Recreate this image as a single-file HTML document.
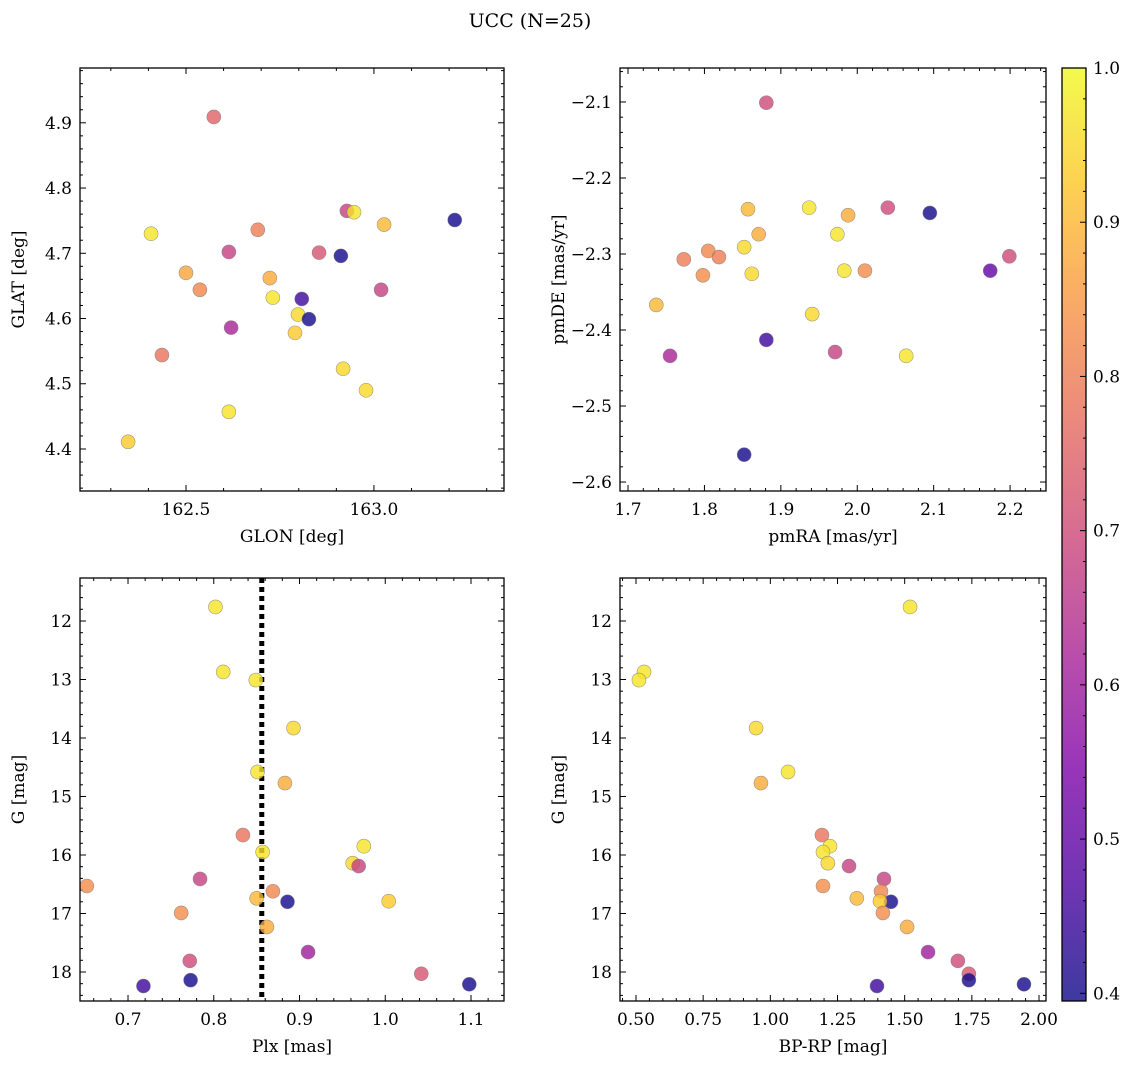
<!DOCTYPE html>
<html><head><meta charset="utf-8"><style>
html,body{margin:0;padding:0;background:#fff;}
svg{display:block;font-family:"DejaVu Serif","Liberation Serif",serif;}
</style></head><body>
<svg id="fig" width="1136" height="1068" viewBox="0 0 1136 1068" xmlns="http://www.w3.org/2000/svg">
<defs>
<linearGradient id="plasma" x1="0" y1="1" x2="0" y2="0">
<stop offset="0" stop-color="#0d0887"/><stop offset="0.125" stop-color="#4c02a1"/><stop offset="0.25" stop-color="#7e03a8"/><stop offset="0.375" stop-color="#a92395"/><stop offset="0.5" stop-color="#cc4778"/><stop offset="0.625" stop-color="#e66c5c"/><stop offset="0.75" stop-color="#f89540"/><stop offset="0.875" stop-color="#fdc527"/><stop offset="1" stop-color="#f0f921"/>
</linearGradient>
</defs>
<text x="530" y="27" font-size="19" text-anchor="middle">UCC (N=25)</text>
</svg>
<script>
// ---- data ----
const tlGlon=[162.574,162.407,162.614,162.691,162.500,162.537,162.723,162.731,162.808,162.620,162.798,162.827,162.790,162.854,162.912,162.928,162.947,163.027,163.215,163.019,162.918,162.979,162.614,162.346,162.436];
const tlGlat=[4.909,4.730,4.702,4.736,4.670,4.644,4.662,4.632,4.630,4.586,4.606,4.599,4.578,4.701,4.696,4.765,4.763,4.744,4.751,4.644,4.523,4.490,4.457,4.411,4.544];
const tlProb=[0.75,0.97,0.68,0.8,0.87,0.82,0.88,0.97,0.45,0.62,0.95,0.4,0.93,0.72,0.4,0.68,0.97,0.9,0.4,0.68,0.95,0.95,0.97,0.93,0.78];
const trPmra=[1.881,1.857,1.937,1.988,2.040,2.095,1.737,1.773,1.805,1.798,1.819,1.852,1.871,1.862,1.974,1.983,2.010,1.941,1.881,1.755,1.971,2.064,2.174,2.199,1.852];
const trPmde=[-2.101,-2.241,-2.239,-2.249,-2.239,-2.246,-2.367,-2.307,-2.296,-2.328,-2.304,-2.291,-2.274,-2.326,-2.274,-2.322,-2.322,-2.379,-2.413,-2.434,-2.429,-2.434,-2.322,-2.303,-2.564];
const trProb=[0.7,0.9,0.97,0.88,0.7,0.4,0.9,0.8,0.82,0.83,0.8,0.95,0.88,0.95,0.97,0.97,0.83,0.95,0.45,0.62,0.68,0.97,0.5,0.7,0.4];
const gMag=[11.76,12.87,13.01,13.83,14.58,14.77,15.66,15.85,15.95,16.14,16.19,16.41,16.53,16.62,16.74,16.80,16.79,16.99,17.23,17.66,17.81,18.03,18.14,18.24,18.21];
const plx=[0.802,0.811,0.849,0.893,0.851,0.883,0.834,0.975,0.857,0.962,0.969,0.784,0.652,0.869,0.850,0.886,1.004,0.762,0.862,0.910,0.772,1.042,0.773,0.718,1.098];
const bprp=[1.520,0.530,0.511,0.947,1.066,0.965,1.192,1.222,1.196,1.214,1.293,1.423,1.196,1.412,1.322,1.449,1.408,1.419,1.509,1.587,1.698,1.739,1.739,1.397,1.944];
const botProb=[0.97,0.97,0.97,0.95,0.97,0.88,0.78,0.97,0.97,0.95,0.68,0.68,0.83,0.82,0.9,0.4,0.93,0.83,0.88,0.6,0.7,0.72,0.4,0.45,0.4];
const plxLine=[0.856];
const cbTicks=[0.4,0.5,0.6,0.7,0.8,0.9,1.0];

const svg=document.getElementById('fig');
const NS='http://www.w3.org/2000/svg';
function mk(tag,at,parent){const e=document.createElementNS(NS,tag);for(const k in at)e.setAttribute(k,at[k]);(parent||svg).appendChild(e);return e;}
const stops=[[0,[13,8,135]],[0.125,[76,2,161]],[0.25,[126,3,168]],[0.375,[169,35,149]],[0.5,[204,71,120]],[0.625,[230,108,92]],[0.75,[248,149,64]],[0.875,[253,197,39]],[1,[240,249,33]]];
const VMIN=0.395,VMAX=1.0;
function cmap(v){let t=(v-VMIN)/(VMAX-VMIN);t=Math.max(0,Math.min(1,t));for(let i=1;i<stops.length;i++){if(t<=stops[i][0]){const a=stops[i-1],b=stops[i];const f=(t-a[0])/(b[0]-a[0]);const c=a[1].map((x,j)=>Math.round(x+(b[1][j]-x)*f));return `rgb(${c[0]},${c[1]},${c[2]})`;}}return 'rgb(240,249,33)';}
function fmt(v,d){const s=v.toFixed(d);return s.startsWith('-')?'\u2212'+s.slice(1):s;}

function panel(o){
  const g=mk('g',{});
  
  
  const X=v=>o.x0+(v-o.xmin)/(o.xmax-o.xmin)*(o.x1-o.x0);
  const Y=o.yinv?(v=>o.y0+(v-o.ymin)/(o.ymax-o.ymin)*(o.y1-o.y0)):(v=>o.y1-(v-o.ymin)/(o.ymax-o.ymin)*(o.y1-o.y0));
  // ticks
  const tk=mk('g',{stroke:'#000','stroke-width':1},g);
  
  
  for(let v=Math.ceil(o.xmin/o.xmi-1e-6)*o.xmi;v<=o.xmax+1e-9;v+=o.xmi){
    const maj=Math.abs(v/o.xma-Math.round(v/o.xma))<1e-6;const L=maj?6:3;const px=X(v);
    mk('line',{x1:px,x2:px,y1:o.y1,y2:o.y1-L},tk);mk('line',{x1:px,x2:px,y1:o.y0,y2:o.y0+L},tk);
    if(maj){const t=mk('text',{x:px,y:o.y1+24,'font-size':17,'text-anchor':'middle',stroke:'none',fill:'#000'},g);t.textContent=fmt(v,o.xd);}
  }
  for(let v=Math.ceil(o.ymin/o.ymi-1e-6)*o.ymi;v<=o.ymax+1e-9;v+=o.ymi){
    const maj=Math.abs(v/o.yma-Math.round(v/o.yma))<1e-6;const L=maj?6:3;const py=Y(v);
    mk('line',{x1:o.x0,x2:o.x0+L,y1:py,y2:py},tk);mk('line',{x1:o.x1,x2:o.x1-L,y1:py,y2:py},tk);
    if(maj){const t=mk('text',{x:o.x0-8,y:py+6,'font-size':17,'text-anchor':'end',stroke:'none',fill:'#000'},g);t.textContent=fmt(v,o.yd);}
  }
  // extra line
  if(o.vline){for(const v of o.vline){const l=mk('line',{x1:X(v),x2:X(v),y1:o.y0,y2:o.y1,stroke:'#000','stroke-width':5,'stroke-dasharray':'5,4'},g);}}
  // points
  for(let i=0;i<o.xs.length;i++){
    const c=mk('circle',{cx:X(o.xs[i]),cy:Y(o.ys[i]),r:7,fill:cmap(o.cs[i]),'fill-opacity':0.8,stroke:'#777','stroke-width':0.6,'stroke-opacity':0.7},g);
    
    
  }
  const fr=mk('rect',{x:o.x0,y:o.y0,width:o.x1-o.x0,height:o.y1-o.y0,fill:'none',stroke:'#000','stroke-width':1.3},g);
  
  
  const xl=mk('text',{x:(o.x0+o.x1)/2,y:o.y1+51,'font-size':17,'text-anchor':'middle'},g);xl.textContent=o.xl;
  
  
  const yx=o.x0-56,yy=(o.y0+o.y1)/2;
  const yl=mk('text',{x:yx,y:yy,'font-size':17,'text-anchor':'middle',transform:`rotate(-90 ${yx} ${yy})`},g);yl.textContent=o.yl;
  
  
}
panel({name:'glon-glat-panel',x0:80,x1:504,y0:68,y1:491,xmin:162.218,xmax:163.346,ymin:4.3356,ymax:4.984,xma:0.5,xmi:0.1,xd:1,yma:0.1,ymi:0.02,yd:1,xs:tlGlon,ys:tlGlat,cs:tlProb,xl:'GLON [deg]',yl:'GLAT [deg]'});
panel({name:'proper-motion-panel',x0:620,x1:1046,y0:68,y1:491,xmin:1.6895,xmax:2.247,ymin:-2.6118,ymax:-2.0553,xma:0.1,xmi:0.02,xd:1,yma:0.1,ymi:0.02,yd:1,xs:trPmra,ys:trPmde,cs:trProb,xl:'pmRA [mas/yr]',yl:'pmDE [mas/yr]'});
panel({name:'plx-g-panel',x0:80,x1:504,y0:578,y1:1001,xmin:0.644,xmax:1.1385,ymin:11.265,ymax:18.496,yinv:true,xma:0.1,xmi:0.02,xd:1,yma:1,ymi:0.2,yd:0,xs:plx,ys:gMag,cs:botProb,vline:plxLine,xl:'Plx [mas]',yl:'G [mag]'});
panel({name:'cmd-panel',x0:620,x1:1046,y0:578,y1:1001,xmin:0.4405,xmax:2.026,ymin:11.265,ymax:18.496,yinv:true,xma:0.25,xmi:0.05,xd:2,yma:1,ymi:0.2,yd:0,xs:bprp,ys:gMag,cs:botProb,xl:'BP-RP [mag]',yl:'G [mag]'});
// colorbar
const cb=mk('g',{});


const cbx0=1062,cbx1=1086,cby0=68,cby1=1001;
const CY=v=>cby1-(v-VMIN)/(VMAX-VMIN)*(cby1-cby0);
mk('rect',{x:cbx0,y:cby0,width:cbx1-cbx0,height:cby1-cby0,fill:'url(#plasma)','fill-opacity':0.8},cb);
for(let v=0.4;v<=1.0001;v+=0.02){const maj=Math.abs(v*10-Math.round(v*10))<1e-6;const L=maj?6:3;mk('line',{x1:cbx1,x2:cbx1-L,y1:CY(v),y2:CY(v),stroke:'#000'},cb);}
for(const v of cbTicks){const t=mk('text',{x:cbx1+7,y:CY(v)+6,'font-size':17},cb);t.textContent=v.toFixed(1);}
mk('rect',{x:cbx0,y:cby0,width:cbx1-cbx0,height:cby1-cby0,fill:'none',stroke:'#000','stroke-width':1.3},cb);
</script>
</body></html>
